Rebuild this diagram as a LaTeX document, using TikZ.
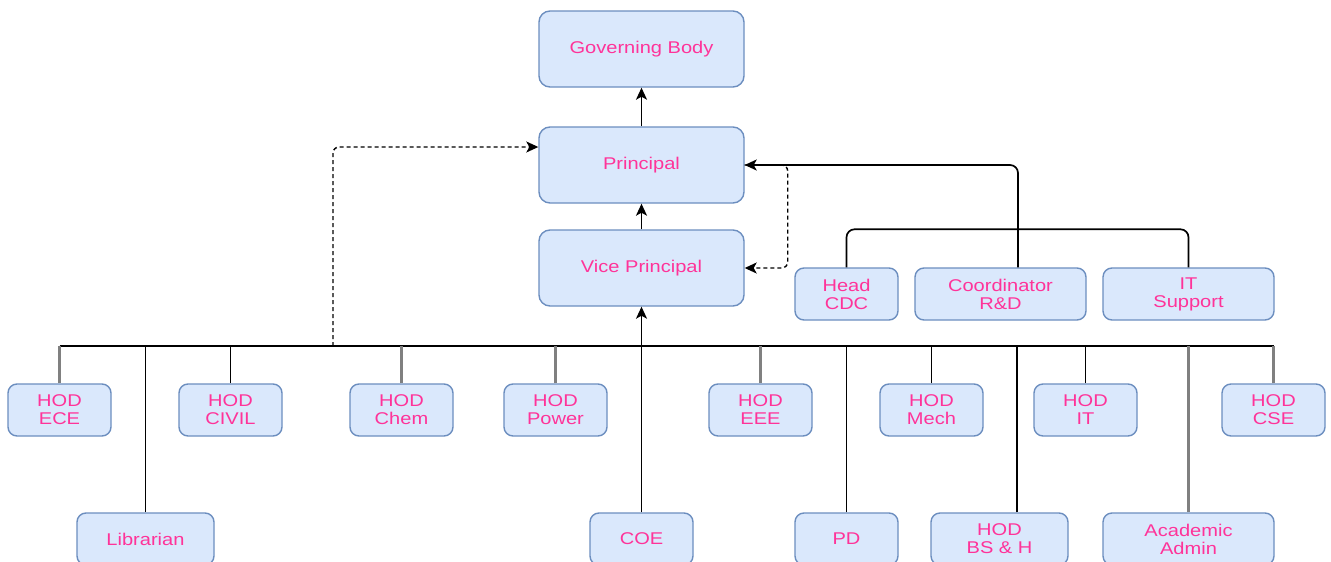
\documentclass[tikz,border=0pt]{standalone}
\usepackage{fontspec}
\setmainfont{Liberation Sans}[FakeStretch=1.18]
\usetikzlibrary{arrows.meta}
\definecolor{boxfill}{HTML}{DAE8FC}
\definecolor{boxline}{HTML}{6C8EBF}
\definecolor{txt}{HTML}{FF3399}
\definecolor{stemgray}{HTML}{808080}
\begin{document}
\begin{tikzpicture}[x=1pt,y=-1pt,
  box/.style={draw=boxline,fill=boxfill,line width=1.4pt,rounded corners=9pt,
    text=txt,align=center,inner sep=0pt,
    font=\fontsize{17}{18}\selectfont},
  bigbox/.style={box,minimum width=205pt,minimum height=76pt,rounded corners=11pt},
  smallbox/.style={box,minimum width=103pt,minimum height=52pt},
  widebox/.style={box,minimum width=137pt,minimum height=52pt},
  xwidebox/.style={box,minimum width=171pt,minimum height=52pt},
  link/.style={draw=black,line width=1.7pt},
  graylink/.style={draw=stemgray,line width=2.8pt},
  arr/.style={link,-{Stealth[length=12pt,width=11pt,inset=3pt]}},
  dasharr/.style={arr,dash pattern=on 4pt off 3pt,line width=1.4pt}]
\useasboundingbox (0,0) rectangle (1331,562);
% top
\node[bigbox] (gb) at (641.5,49) {Governing Body};
\node[bigbox] (pr) at (641.5,165) {Principal};
\node[bigbox] (vp) at (641.5,268) {Vice Principal};
% staff row
\node[smallbox] (cdc) at (846.5,294) {Head\\CDC};
\node[xwidebox] (crd) at (1000.5,294) {Coordinator\\R\&D};
\node[xwidebox] (its) at (1188.5,294) {IT\\Support};
% row 1
\node[smallbox] (ece) at (59.5,410) {HOD\\ECE};
\node[smallbox] (civil) at (230.5,410) {HOD\\CIVIL};
\node[smallbox] (chem) at (401.5,410) {HOD\\Chem};
\node[smallbox] (power) at (555.5,410) {HOD\\Power};
\node[smallbox] (eee) at (760.5,410) {HOD\\EEE};
\node[smallbox] (mech) at (931.5,410) {HOD\\Mech};
\node[smallbox] (hit) at (1085.5,410) {HOD\\IT};
\node[smallbox] (cse) at (1273.5,410) {HOD\\CSE};
% row 2
\node[widebox] (lib) at (145.5,539) {Librarian};
\node[smallbox] (coe) at (641.5,539) {COE};
\node[smallbox] (pd) at (846.5,539) {PD};
\node[widebox] (bsh) at (999.5,539) {HOD\\BS \& H};
\node[xwidebox] (aa) at (1188.5,539) {Academic\\Admin};
% bus
\coordinate (busL) at (59.5,346);
\coordinate (busR) at (1273.5,346);
\coordinate (dj) at (333,346);
\draw[link] (busL) -- (busR);
% top arrows
\draw[arr] (pr.north) -- (gb.south);
\draw[arr] (vp.north) -- (pr.south);
\draw[arr] (coe.north) -- (vp.south);
\draw[arr,rounded corners=8pt] ([xshift=17.5pt]crd.north) |- (pr.east);
\draw[link,rounded corners=8pt] (cdc.north) -- ++(0,-38) -| (its.north);
\draw[dasharr,rounded corners=6pt] (pr.east) -- ++(43,0) |- (vp.east);
\draw[dasharr,rounded corners=6pt] (dj) |- ([yshift=18pt]pr.west);
% stems row 1
\draw[graylink] (ece.north) -- (ece.north |- busL);
\draw[link] (civil.north) -- (civil.north |- busL);
\draw[graylink] (chem.north) -- (chem.north |- busL);
\draw[graylink] (power.north) -- (power.north |- busL);
\draw[graylink] (eee.north) -- (eee.north |- busL);
\draw[link] (mech.north) -- (mech.north |- busL);
\draw[link] (hit.north) -- (hit.north |- busL);
\draw[graylink] (cse.north) -- (cse.north |- busL);
% stems row 2
\draw[link] (lib.north) -- (lib.north |- busL);
\draw[link] (pd.north) -- (pd.north |- busL);
\draw[link] ([xshift=17.5pt]bsh.north) -- ([xshift=17.5pt]bsh.north |- busL);
\draw[graylink] (aa.north) -- (aa.north |- busL);
\end{tikzpicture}
\end{document}
